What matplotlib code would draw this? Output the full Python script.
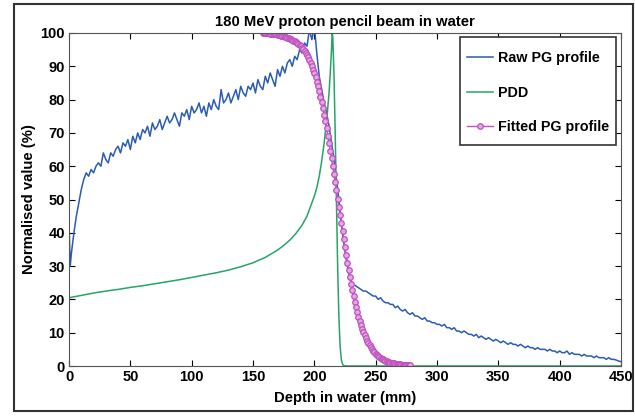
import matplotlib.pyplot as plt
import numpy as np
from matplotlib.patches import Rectangle

# Raw prompt-gamma profile (depth in mm, value in %)
raw_depth = np.concatenate([[0, 1], np.arange(2, 451, 2)])
raw_value = [
    43, 30,
    34, 40, 45, 49, 53, 56, 58, 57, 59, 58,
    60, 61, 60, 64, 62, 61, 64, 63, 65, 66,
    64, 67, 66, 68, 65, 69, 67, 70, 68, 71,
    70, 72, 69, 73, 71, 72, 74, 71, 73, 75,
    73, 74, 76, 74, 72, 76, 75, 77, 74, 78,
    76, 77, 79, 76, 78, 75, 79, 77, 80, 78,
    77, 83, 79, 80, 82, 79, 81, 83, 80, 84,
    82, 81, 84, 83, 85, 82, 86, 84, 83, 87,
    85, 88, 86, 84, 89, 87, 90, 88, 91, 92,
    90, 93, 92, 95, 94, 97, 96, 101, 98, 102,
    94, 87, 83, 79, 76, 72, 67, 62, 56, 50,
    43, 37, 32, 28, 25.5, 24.5, 24, 23.5, 23, 22.5,
    22.5, 22, 21.5, 21, 21, 20, 20.5, 19.5, 19, 19,
    18.5, 18.5, 17.5, 18, 17, 16.5, 17, 16, 15.5, 16,
    15, 15, 14.5, 14, 14.5, 13.5, 13.5, 13, 13, 12.5,
    12.5, 12, 12.5, 11.5, 11.5, 11, 11.5, 10.5, 10.5, 10,
    10.5, 10, 9.5, 9.5, 9, 9.5, 8.5, 9, 8.5, 8,
    8.5, 8, 7.5, 8, 7.5, 7, 7.5, 7, 6.5, 7,
    6.5, 6.5, 6, 6.5, 6, 5.5, 6, 5.5, 5.5, 5,
    5.5, 5, 5, 5, 4.5, 5, 4.5, 4.5, 4, 4.5,
    4, 4, 4.5, 3.5, 4, 3.5, 3.5, 3.5, 3, 3.5,
    3, 3, 3, 2.5, 3, 2.5, 2.5, 2.5, 2, 2.5,
    2, 2, 1.8, 1.5, 1.3,
]

# Percentage depth dose
pdd_depth = [0, 10, 20, 30, 40, 50, 60, 70, 80, 90, 100, 110, 120, 130, 140,
             150, 160, 170, 175, 180, 185, 190, 194, 197, 200, 202, 204, 206,
             208, 210, 212, 213, 214, 214.5, 215, 216, 217, 218, 219, 220,
             221, 222, 223, 224, 226, 300, 450]
pdd_value = [20.5, 21.2, 21.9, 22.5, 23.0, 23.6, 24.1, 24.7, 25.3, 25.9, 26.6,
             27.3, 28.0, 28.8, 29.8, 31.0, 32.6, 34.8, 36.2, 37.8, 39.8, 42.3,
             45.0, 48.0, 51.0, 53.5, 57.0, 61.5, 67.0, 73.5, 82.0, 88.0, 95.0,
             100.0, 99.0, 88.0, 70.0, 50.0, 30.0, 15.0, 6.0, 2.0, 0.5, 0.1,
             0.0, 0.0, 0.0]

# Fitted prompt-gamma profile, 158..278 mm
fit_depth = np.arange(158, 279, 1)
fit_value = [
    100.0, 99.98, 99.96, 99.93, 99.9, 99.86, 99.82, 99.78, 99.73, 99.68,
    99.62, 99.56, 99.5, 99.4, 99.3, 99.2, 99.1, 99.0, 98.85, 98.7,
    98.55, 98.4, 98.25, 98.05, 97.85, 97.65, 97.45, 97.2, 96.95, 96.7,
    96.4, 96.0, 95.6, 95.1, 94.6, 94.0, 93.4, 92.7, 91.9, 91.0,
    90.0, 89.0, 87.9, 86.7, 85.4, 84.0, 82.5, 80.9, 79.2, 77.4,
    75.5, 73.5, 71.4, 69.2, 67.0, 64.7, 62.4, 60.0, 57.6, 55.2,
    52.8, 50.3, 47.8, 45.3, 42.9, 40.5, 38.0, 35.6, 33.3, 31.0,
    28.8, 26.7, 24.7, 22.8, 21.0, 19.3, 17.7, 16.2, 14.8, 13.5,
    12.3, 11.2, 10.2, 9.2, 8.4, 7.6, 6.9, 6.2, 5.6, 5.1,
    4.6, 4.1, 3.7, 3.3, 3.0, 2.7, 2.4, 2.2, 2.0, 1.8,
    1.6, 1.4, 1.3, 1.2, 1.05, 0.95, 0.85, 0.77, 0.7, 0.63,
    0.57, 0.51, 0.46, 0.42, 0.38, 0.34, 0.31, 0.28, 0.25, 0.23,
    0.21,
]

plt.rcParams["font.family"] = "Liberation Sans"
plt.rcParams["font.weight"] = "bold"

fig = plt.figure(figsize=(6.35, 4.16), dpi=100)
fig.patches.append(Rectangle((14 / 635, 5 / 416), 619 / 635, 407 / 416,
                             transform=fig.transFigure, fill=False,
                             edgecolor="#333333", linewidth=1.5))
ax = fig.add_axes([69 / 635, 50 / 416, 552 / 635, 333 / 416])

ax.plot(raw_depth, raw_value, color="#2b5cb0", linewidth=1.1,
        label="Raw PG profile")
ax.plot(pdd_depth, pdd_value, color="#25a565", linewidth=1.1, label="PDD")
ax.plot(fit_depth, fit_value, color="#c050c0", linewidth=1.0, marker="o",
        markersize=4, markerfacecolor="#e2a8e2", markeredgecolor="#c050c0",
        markeredgewidth=0.9, label="Fitted PG profile")

ax.set_xlim(0, 450)
ax.set_ylim(0, 100)
ax.set_xticks(np.arange(0, 451, 50))
ax.set_yticks(np.arange(0, 101, 10))
ax.tick_params(direction="in", top=True, right=True, length=4, pad=3,
               labelsize=10.5)
for side in ax.spines.values():
    side.set_color("#555555")
ax.set_title("180 MeV proton pencil beam in water", fontsize=10.7,
             fontweight="bold", pad=5)
ax.set_xlabel("Depth in water (mm)", fontsize=10.7, fontweight="bold",
              labelpad=5)
ax.set_ylabel("Normalised value (%)", fontsize=10.7, fontweight="bold",
              labelpad=3)

# legend box is taller than matplotlib's padding allows, so draw it apart
ax.add_patch(Rectangle((0.708, 0.664), 0.283, 0.324, transform=ax.transAxes,
                       facecolor="white", edgecolor="#333333", linewidth=1.2,
                       zorder=4))
leg = ax.legend(loc="upper left", bbox_to_anchor=(0.721, 0.946),
                frameon=False, handlelength=1.8, handletextpad=0.35,
                labelspacing=1.45, borderpad=0, borderaxespad=0,
                prop={"weight": "bold", "size": 10.3})
leg.set_zorder(5)

fig.savefig("out.png", dpi=100)
